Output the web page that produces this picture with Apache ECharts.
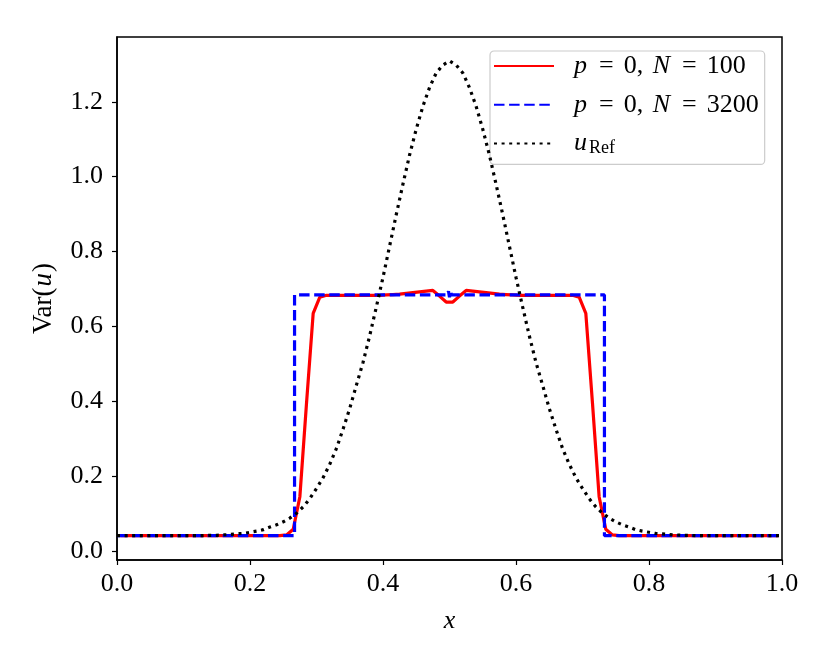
<!DOCTYPE html>
<html>
<head>
    <meta charset="utf-8">
    <title>Var(u)</title>
    <script src="https://cdn.jsdelivr.net/npm/echarts@6/dist/echarts.min.js"></script>
    <style>
        html, body { margin: 0; padding: 0; background: #fff; }
        #main { width: 830px; height: 664px; }
    </style>
</head>
<body>
<div id="main"></div>
<script type="text/javascript">
    // tick labels
    var xTicks = [0, 0.2, 0.4, 0.6, 0.8, 1.0];
    var yTicks = [0, 0.2, 0.4, 0.6, 0.8, 1.0, 1.2];

    // p=0, N=100 : cell centres 0.005 ... 0.995
    var vN100 = [
        0.041, 0.041, 0.041, 0.041, 0.041, 0.041, 0.041, 0.041, 0.041, 0.041,
        0.041, 0.041, 0.041, 0.041, 0.041, 0.041, 0.041, 0.041, 0.041, 0.041,
        0.041, 0.041, 0.041, 0.041, 0.041, 0.043, 0.058, 0.145, 0.395, 0.635,
        0.678, 0.683, 0.683, 0.683, 0.683, 0.683, 0.683, 0.683, 0.683, 0.683,
        0.684, 0.685, 0.686, 0.688, 0.690, 0.692, 0.694, 0.696, 0.681, 0.665,
        0.665, 0.681, 0.696, 0.694, 0.692, 0.690, 0.688, 0.686, 0.685, 0.684,
        0.683, 0.683, 0.683, 0.683, 0.683, 0.683, 0.683, 0.683, 0.683, 0.678,
        0.635, 0.395, 0.145, 0.058, 0.043, 0.041, 0.041, 0.041, 0.041, 0.041,
        0.041, 0.041, 0.041, 0.041, 0.041, 0.041, 0.041, 0.041, 0.041, 0.041,
        0.041, 0.041, 0.041, 0.041, 0.041, 0.041, 0.041, 0.041, 0.041, 0.041
    ];

    // p=0, N=3200 (fine grid, read as a step)
    var xN3200 = [0, 0.267, 0.267, 0.497, 0.4985, 0.5, 0.5015, 0.503, 0.733, 0.733, 1];
    var vN3200 = [0.041, 0.041, 0.684, 0.684, 0.694, 0.678, 0.694, 0.684, 0.684, 0.041, 0.041];

    // u_Ref : x = 0, 0.01, ..., 1
    var vRef = [
        0.041, 0.041, 0.041, 0.041, 0.041, 0.041, 0.041, 0.041, 0.041, 0.041,
        0.041, 0.041, 0.041, 0.041, 0.042, 0.042, 0.043, 0.044, 0.046, 0.047,
        0.050, 0.053, 0.057, 0.064, 0.070, 0.078, 0.088, 0.101, 0.118, 0.140,
        0.167, 0.196, 0.232, 0.274, 0.326, 0.381, 0.443, 0.504, 0.575, 0.652,
        0.731, 0.815, 0.899, 0.980, 1.058, 1.127, 1.188, 1.238, 1.277, 1.298,
        1.309,
        1.298, 1.277, 1.238, 1.188, 1.127, 1.058, 0.980, 0.899, 0.815, 0.731,
        0.652, 0.575, 0.504, 0.443, 0.381, 0.326, 0.274, 0.232, 0.196, 0.167,
        0.140, 0.118, 0.101, 0.088, 0.078, 0.070, 0.064, 0.057, 0.053, 0.050,
        0.047, 0.046, 0.044, 0.043, 0.042, 0.042, 0.041, 0.041, 0.041, 0.041,
        0.041, 0.041, 0.041, 0.041, 0.041, 0.041, 0.041, 0.041, 0.041, 0.041
    ];

    var serif = 'Liberation Serif';
    var fs = 26;

    function pairs(xs, ys) {
        var out = [];
        for (var i = 0; i < ys.length; i++) out.push([xs[i], ys[i]]);
        return out;
    }
    var xN100 = vN100.map(function (v, i) { return 0.005 + 0.01 * i; });
    var xRef = vRef.map(function (v, i) { return i / 100; });

    var legendText = {
        'n100': '{i|p}{e|=}0,{c| }{i|N}{e|=}100',
        'n3200': '{i|p}{e|=}0,{c| }{i|N}{e|=}3200',
        'ref': '{i|u}{s|Ref}'
    };

    var myChart = echarts.init(document.getElementById('main'), null, {renderer: 'canvas'});

    var option = {
        animation: false,
        backgroundColor: '#fff',
        grid: {
            left: 117, right: 48, top: 37, bottom: 104,
            show: true, borderColor: '#000', borderWidth: 1.5, backgroundColor: 'transparent'
        },
        xAxis: {
            type: 'value', min: 0, max: 1,
            name: 'x', nameLocation: 'middle', nameGap: 48,
            nameTextStyle: {fontFamily: serif, fontSize: fs, fontStyle: 'italic', color: '#000'},
            axisLine: {show: true, onZero: false, lineStyle: {color: '#000', width: 1.5}},
            axisTick: {show: true, length: 5, lineStyle: {color: '#000', width: 1.2}, customValues: xTicks},
            axisLabel: {
                fontFamily: serif, fontSize: fs, color: '#000', margin: 11,
                customValues: xTicks,
                formatter: function (v) { return v.toFixed(1); }
            },
            splitLine: {show: false}
        },
        yAxis: {
            type: 'value', min: -0.024, max: 1.373,
            name: '{r|Var(}{i|u}{r|)}', nameLocation: 'middle', nameGap: 60,
            nameTextStyle: {
                color: '#000',
                rich: {
                    r: {fontFamily: serif, fontSize: 27, color: '#000'},
                    i: {fontFamily: serif, fontSize: 27, fontStyle: 'italic', color: '#000', padding: [0, 1, 0, 1]}
                }
            },
            axisLine: {show: true, onZero: false, lineStyle: {color: '#000', width: 1.5}},
            axisTick: {show: true, length: 5, lineStyle: {color: '#000', width: 1.2}, customValues: yTicks},
            axisLabel: {
                fontFamily: serif, fontSize: fs, color: '#000', margin: 14,
                customValues: yTicks,
                formatter: function (v) { return v.toFixed(1); }
            },
            splitLine: {show: false}
        },
        legend: {
            orient: 'vertical', left: 490, top: 51,
            itemWidth: 60, itemHeight: 12, itemGap: 10.7,
            padding: [1, 6, 7, 3],
            backgroundColor: 'rgba(255,255,255,0.8)',
            borderColor: '#cccccc', borderWidth: 1.2, borderRadius: 4,
            itemStyle: {opacity: 0},
            data: ['n100', 'n3200', 'ref'],
            formatter: function (name) { return legendText[name]; },
            textStyle: {
                fontFamily: serif, fontSize: fs, color: '#000', lineHeight: 28, padding: [0, 0, 0, 15],
                rich: {
                    i: {fontFamily: serif, fontSize: fs, fontStyle: 'italic', color: '#000', lineHeight: 28, padding: [0, 2, 0, 0]},
                    e: {fontFamily: serif, fontSize: fs, color: '#000', lineHeight: 28, padding: [0, 10, 0, 10]},
                    c: {fontFamily: serif, fontSize: fs, color: '#000', lineHeight: 28, padding: [0, 3, 0, 0]},
                    s: {fontFamily: serif, fontSize: 18, color: '#000', lineHeight: 18, padding: [9, 0, 0, 0]}
                }
            }
        },
        series: [{
            name: 'n100',
            type: 'line',
            data: pairs(xN100, vN100),
            symbol: 'none',
            z: 2,
            lineStyle: {color: '#ff0000', width: 3.2},
            itemStyle: {color: '#ff0000'}
        }, {
            name: 'n3200',
            type: 'line',
            data: pairs(xN3200, vN3200),
            symbol: 'none',
            z: 3,
            lineStyle: {color: '#0000ff', width: 3.2, type: [10.5, 4.6], cap: 'butt'},
            itemStyle: {color: '#0000ff'}
        }, {
            name: 'ref',
            type: 'line',
            data: pairs(xRef, vRef),
            symbol: 'none',
            z: 4,
            lineStyle: {color: '#000000', width: 3.2, type: [3.0, 4.6], cap: 'butt'},
            itemStyle: {color: '#000000'}
        }]
    };

    myChart.setOption(option);
</script>
</body>
</html>
